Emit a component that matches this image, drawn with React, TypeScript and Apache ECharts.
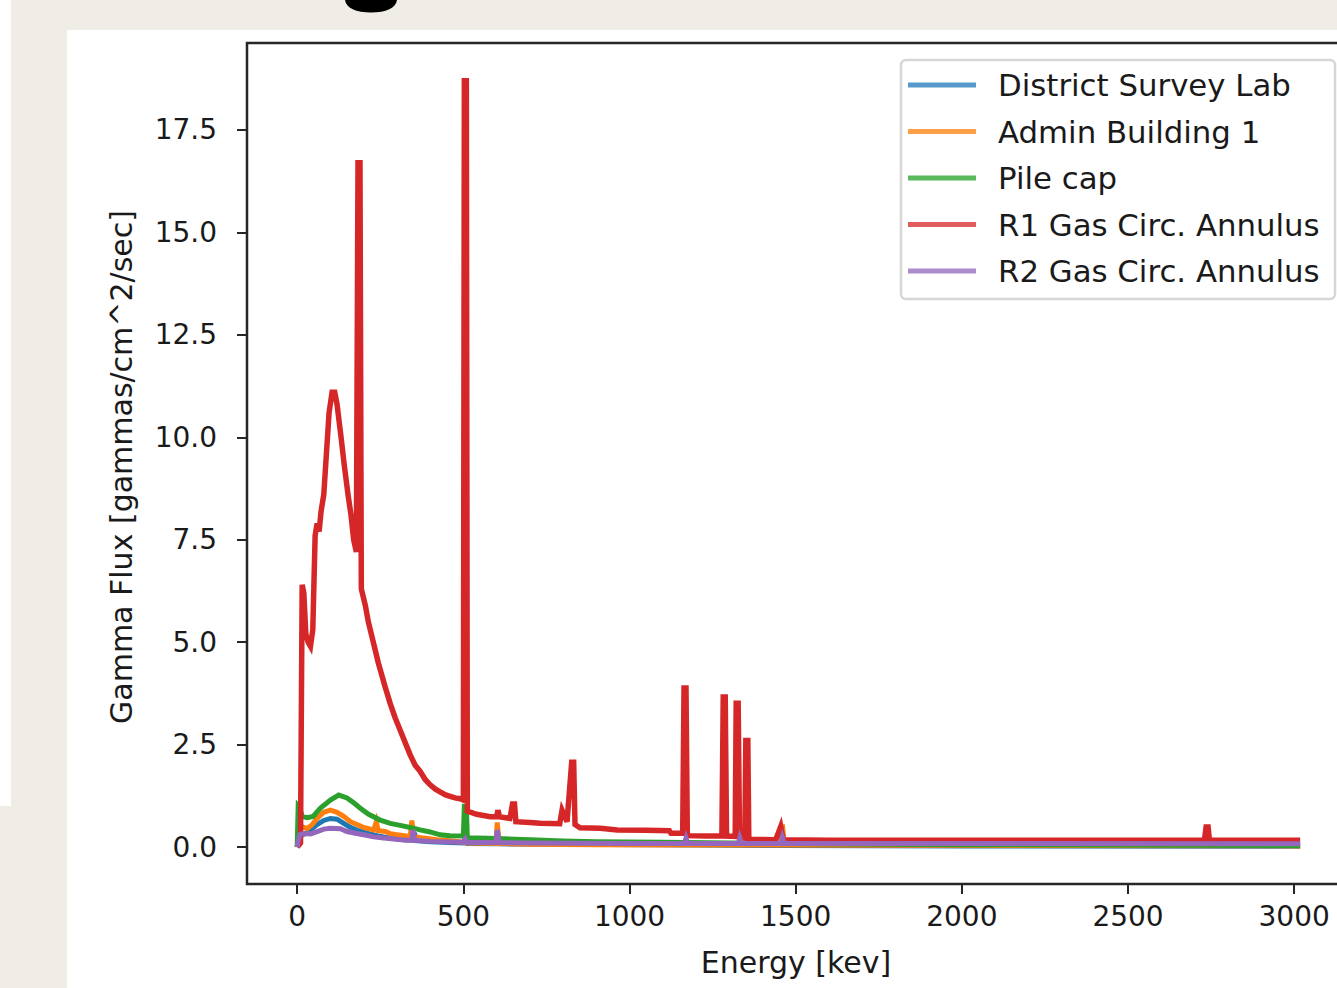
import React, { useEffect, useRef } from "react";
import * as echarts from "echarts";

// Series: [energy keV, gamma flux]
const seriesNames = [
  "District Survey Lab",
  "Admin Building 1",
  "Pile cap",
  "R1 Gas Circ. Annulus",
  "R2 Gas Circ. Annulus",
];

const districtSurveyLab: [number, number][] = [
  [0, 0.0], [5, 0.2], [15, 0.3], [30, 0.35], [45, 0.45], [60, 0.55], [80, 0.65],
  [100, 0.7], [120, 0.68], [140, 0.58], [160, 0.48], [185, 0.4], [210, 0.34],
  [240, 0.28], [280, 0.22], [320, 0.18], [350, 0.17], [353, 0.35], [358, 0.16],
  [400, 0.13], [460, 0.11], [500, 0.1], [505, 0.2], [512, 0.09], [600, 0.08],
  [800, 0.07], [1200, 0.05], [1460, 0.04], [1463, 0.1], [1470, 0.04], [2000, 0.03],
  [3018, 0.02],
];

const adminBuilding1: [number, number][] = [
  [0, 0.0], [5, 0.35], [15, 0.5], [30, 0.45], [45, 0.55], [60, 0.7], [80, 0.85],
  [100, 0.9], [120, 0.85], [140, 0.75], [160, 0.62], [180, 0.55], [200, 0.48],
  [230, 0.42], [238, 0.62], [244, 0.4], [265, 0.38], [280, 0.33], [300, 0.3],
  [340, 0.26], [345, 0.65], [351, 0.26], [380, 0.22], [420, 0.18], [470, 0.15],
  [500, 0.12], [515, 0.1], [598, 0.09], [602, 0.6], [608, 0.09], [700, 0.07],
  [900, 0.06], [1200, 0.05], [1455, 0.05], [1460, 0.55], [1466, 0.05], [3018, 0.03],
];

const pileCap: [number, number][] = [
  [0, 0.0], [3, 1.0], [8, 0.95], [15, 0.75], [30, 0.72], [48, 0.75], [70, 0.95],
  [100, 1.15], [125, 1.27], [150, 1.2], [170, 1.08], [190, 0.95], [215, 0.8],
  [250, 0.66], [280, 0.58], [310, 0.53], [340, 0.48], [370, 0.42], [400, 0.37],
  [430, 0.3], [460, 0.28], [500, 0.27], [503, 1.0], [509, 1.0], [512, 0.23],
  [600, 0.21], [700, 0.18], [800, 0.15], [900, 0.13], [1100, 0.12], [1300, 0.1],
  [1460, 0.09], [2000, 0.06], [3018, 0.04],
];

const r1GasCircAnnulus: [number, number][] = [
  [0, 0.0], [10, 0.1], [15, 6.4], [20, 6.2], [26, 5.2], [33, 5.0], [40, 4.9],
  [47, 5.3], [54, 7.6], [60, 7.9], [66, 7.7], [72, 8.2], [80, 8.6], [88, 9.6],
  [96, 10.6], [105, 11.1], [113, 11.1], [120, 10.8], [132, 10.0], [142, 9.3],
  [153, 8.6], [162, 8.1], [170, 7.5], [178, 7.2], [183, 16.7], [189, 16.7],
  [193, 6.3], [205, 5.9], [214, 5.5], [229, 5.0], [244, 4.5], [265, 3.9],
  [280, 3.5], [295, 3.15], [310, 2.85], [325, 2.55], [340, 2.25], [355, 2.0],
  [370, 1.85], [385, 1.65], [400, 1.52], [415, 1.42], [430, 1.35], [445, 1.28],
  [460, 1.24], [475, 1.2], [490, 1.18], [500, 1.15], [503, 18.7], [509, 18.7],
  [512, 0.88], [540, 0.8], [581, 0.74], [600, 0.74], [604, 0.9], [609, 0.74],
  [640, 0.7], [648, 1.05], [654, 1.05], [658, 0.62], [700, 0.6], [731, 0.58],
  [790, 0.57], [797, 0.9], [812, 0.62], [826, 2.07], [832, 2.07], [836, 0.55],
  [851, 0.47], [912, 0.46], [963, 0.42], [1050, 0.41], [1120, 0.4], [1125, 0.34],
  [1160, 0.34], [1164, 3.88], [1170, 3.88], [1174, 0.28], [1230, 0.27],
  [1278, 0.27], [1282, 3.66], [1288, 3.66], [1292, 0.27], [1318, 0.26],
  [1321, 3.51], [1327, 3.51], [1331, 0.24], [1347, 0.22], [1350, 2.6],
  [1356, 2.6], [1359, 0.19], [1440, 0.18], [1455, 0.5], [1462, 0.18],
  [1600, 0.17], [2000, 0.17], [2730, 0.17], [2735, 0.49], [2741, 0.49],
  [2745, 0.17], [3018, 0.17],
];

const r2GasCircAnnulus: [number, number][] = [
  [0, 0.0], [3, 0.15], [8, 0.3], [20, 0.33], [40, 0.32], [60, 0.38], [80, 0.44],
  [100, 0.46], [130, 0.45], [150, 0.38], [175, 0.34], [200, 0.3], [230, 0.25],
  [260, 0.22], [290, 0.2], [330, 0.17], [345, 0.17], [348, 0.42], [354, 0.17],
  [400, 0.14], [500, 0.12], [506, 0.2], [512, 0.11], [598, 0.11], [602, 0.42],
  [608, 0.11], [700, 0.1], [1000, 0.09], [1165, 0.09], [1170, 0.22], [1175, 0.09],
  [1328, 0.09], [1332, 0.22], [1337, 0.09], [1455, 0.09], [1460, 0.24],
  [1466, 0.09], [2000, 0.09], [3018, 0.08],
];

const seriesData = [
  districtSurveyLab,
  adminBuilding1,
  pileCap,
  r1GasCircAnnulus,
  r2GasCircAnnulus,
];

const lineColors = ["#1f77b4", "#ff7f0e", "#2ca02c", "#d62728", "#9467bd"];
const legendColors = ["#5799cc", "#ff9f47", "#5cb85c", "#e05c5d", "#ad8ccd"];
const lineWidths = [5, 5, 5, 5.5, 5];

const xTicks = [0, 500, 1000, 1500, 2000, 2500, 3000];
const yTicks = [0, 2.5, 5, 7.5, 10, 12.5, 15, 17.5];

const xAxisTitle = "Energy [kev]";
const yAxisTitle = "Gamma Flux [gammas/cm^2/sec]";

const FONT = "DejaVu Sans";
const TEXT = "#1a1a1a";
const SPINE = "#262626";

// fragment of a cropped heading glyph at the very top of the page
echarts.graphic.registerShape(
  "glyphTail",
  echarts.graphic.extendPath(
    "M345,0 C346,8 356,12.5 371,12.5 C386,12.5 396,8 397,0 Z",
    {}
  )
);

export default function App() {
  const ref = useRef<HTMLDivElement>(null);

  useEffect(() => {
    if (!ref.current) return;
    const chart = echarts.init(ref.current, undefined, { renderer: "svg" });

    const legendX = 901;
    const legendY = 60;
    const rowStep = 46.5;
    const legendGraphics: any[] = [
      {
        type: "rect",
        shape: { x: legendX, y: legendY, width: 434, height: 239, r: 5 },
        style: { fill: "rgba(255,255,255,0.85)", stroke: "#d6d6d6", lineWidth: 2.5 },
        z: 100,
      },
    ];
    seriesNames.forEach((name, i) => {
      const cy = 85 + i * rowStep;
      legendGraphics.push({
        type: "line",
        shape: { x1: 908, y1: cy, x2: 976, y2: cy },
        style: { stroke: legendColors[i], lineWidth: 5 },
        z: 101,
      });
      legendGraphics.push({
        type: "text",
        x: 998,
        y: cy,
        style: {
          text: name,
          font: `30.8px '${FONT}'`,
          fill: TEXT,
          textAlign: "left",
          textVerticalAlign: "middle",
        },
        z: 101,
      });
    });

    chart.setOption({
      animation: false,
      backgroundColor: "transparent",
      grid: {
        left: 247,
        top: 43,
        width: 1104,
        height: 841,
        show: true,
        borderColor: SPINE,
        borderWidth: 2.5,
        backgroundColor: "transparent",
      },
      xAxis: {
        type: "value",
        min: -151,
        max: 3171,
        axisLine: { show: false, onZero: false },
        splitLine: { show: false },
        axisTick: {
          show: true,
          customValues: xTicks,
          length: 10,
          lineStyle: { color: SPINE, width: 2 },
        },
        axisLabel: {
          customValues: xTicks,
          margin: 18,
          color: TEXT,
          fontFamily: FONT,
          fontSize: 28,
          formatter: (v: number) => String(v),
        },
      },
      yAxis: {
        type: "value",
        min: -0.9,
        max: 19.62,
        axisLine: { show: false, onZero: false },
        splitLine: { show: false },
        axisTick: {
          show: true,
          customValues: yTicks,
          length: 10,
          lineStyle: { color: SPINE, width: 2 },
        },
        axisLabel: {
          customValues: yTicks,
          margin: 30,
          color: TEXT,
          fontFamily: FONT,
          fontSize: 28,
          formatter: (v: number) => v.toFixed(1),
        },
      },
      series: seriesNames.map((name, i) => ({
        name,
        type: "line",
        data: seriesData[i],
        showSymbol: false,
        symbol: "none",
        silent: true,
        lineStyle: { color: lineColors[i], width: lineWidths[i], join: "miter" },
        itemStyle: { color: lineColors[i] },
        z: 2 + i,
      })),
      graphic: [
        {
          type: "glyphTail",
          x: 0,
          y: 0,
          style: { fill: "#000" },
        },
        {
          type: "text",
          x: 796,
          y: 962,
          style: {
            text: xAxisTitle,
            font: `30px '${FONT}'`,
            fill: TEXT,
            textAlign: "center",
            textVerticalAlign: "middle",
          },
        },
        {
          type: "text",
          x: 121,
          y: 467,
          rotation: Math.PI / 2,
          style: {
            text: yAxisTitle,
            font: `30px '${FONT}'`,
            fill: TEXT,
            textAlign: "center",
            textVerticalAlign: "middle",
          },
        },
        ...legendGraphics,
      ],
    });

    return () => chart.dispose();
  }, []);

  return (
    <div
      style={{
        position: "fixed",
        left: 0,
        top: 0,
        width: 1337,
        height: 988,
        overflow: "hidden",
        background: "#f0ede6",
      }}
    >
      <div style={{ position: "absolute", left: 0, top: 0, width: 11, height: 806, background: "#fff" }} />
      <div style={{ position: "absolute", left: 67, top: 30, width: 1270, height: 958, background: "#fff" }} />
      <div ref={ref} style={{ position: "absolute", left: 0, top: 0, width: 1360, height: 988 }} />
    </div>
  );
}
